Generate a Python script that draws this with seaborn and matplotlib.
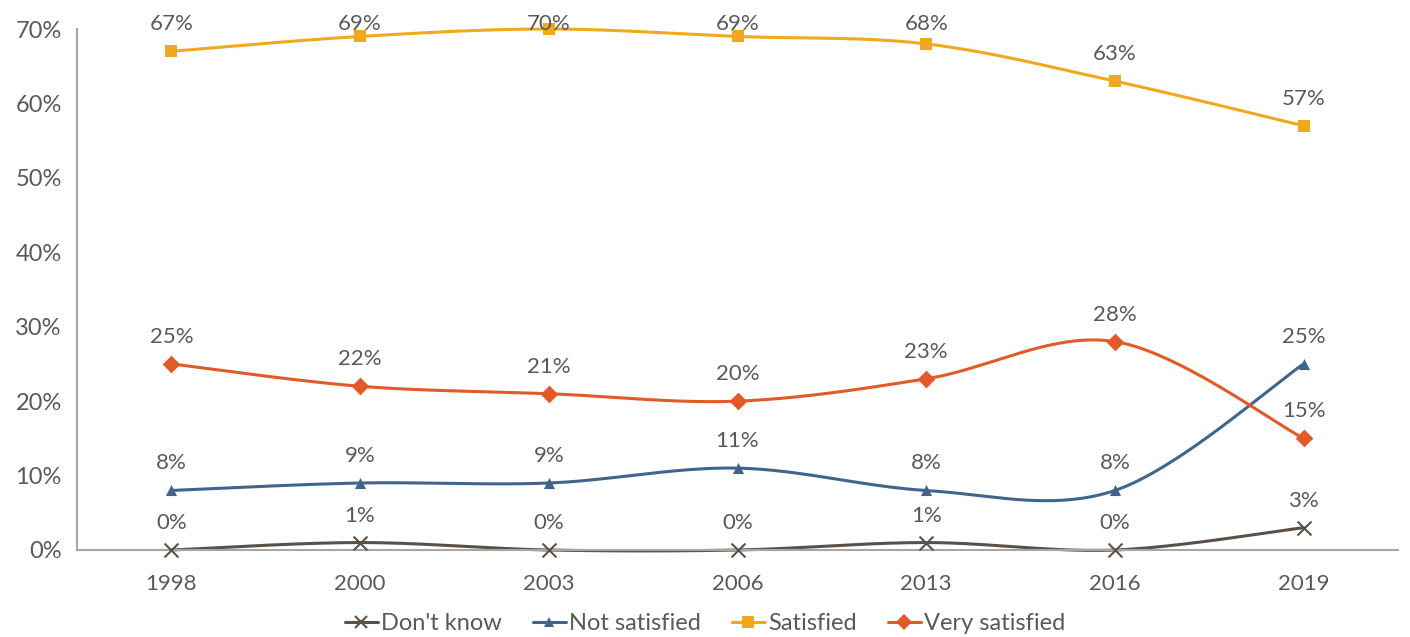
import numpy as np
import pandas as pd
import matplotlib
matplotlib.use("Agg")
import matplotlib.pyplot as plt
from matplotlib.lines import Line2D
import seaborn as sns

years = ["1998", "2000", "2003", "2006", "2013", "2016", "2019"]
dont_know = [0, 1, 0, 0, 1, 0, 3]
not_satisfied = [8, 9, 9, 11, 8, 8, 25]
satisfied = [67, 69, 70, 69, 68, 63, 57]
very_satisfied = [25, 22, 21, 20, 23, 28, 15]

series_names = ["Don't know", "Not satisfied", "Satisfied", "Very satisfied"]
series_vals = [dont_know, not_satisfied, satisfied, very_satisfied]
colors = ["#5b5047", "#41658a", "#f2a81d", "#e15a27"]
markers = ["x", "^", "s", "D"]
msizes = [10, 8, 9, 9]

sns.set_theme(style="white")
plt.rcParams['font.family'] = ['Lato', 'DejaVu Sans']
text_color = "#595959"
axis_color = "#a6a6a6"

W, H = 1410, 637
fig = plt.figure(figsize=(W/100, H/100), dpi=100)
ax = fig.add_axes([77/W, 1-550/H, (1398-77)/W, (550-29)/H])


def smooth(xs, ys, n=40):
    xs = np.asarray(xs, float); ys = np.asarray(ys, float)
    px, py = [], []
    m = len(xs)
    for i in range(m - 1):
        x0, y0 = (xs[i-1], ys[i-1]) if i > 0 else (xs[i], ys[i])
        x1, y1 = xs[i], ys[i]
        x2, y2 = xs[i+1], ys[i+1]
        x3, y3 = (xs[i+2], ys[i+2]) if i + 2 < m else (xs[i+1], ys[i+1])
        c1x, c1y = x1 + (x2 - x0) / 6, y1 + (y2 - y0) / 6
        c2x, c2y = x2 - (x3 - x1) / 6, y2 - (y3 - y1) / 6
        t = np.linspace(0, 1, n, endpoint=(i == m - 2))
        bx = (1-t)**3*x1 + 3*(1-t)**2*t*c1x + 3*(1-t)*t**2*c2x + t**3*x2
        by = (1-t)**3*y1 + 3*(1-t)**2*t*c1y + 3*(1-t)*t**2*c2y + t**3*y2
        px.extend(bx); py.extend(by)
    return np.array(px), np.array(py)


xidx = np.arange(len(years))
rows = []
for name, vals in zip(series_names, series_vals):
    sx, sy = smooth(xidx, vals)
    for a, b in zip(sx, sy):
        rows.append({"x": a, "y": b, "series": name})
curve_df = pd.DataFrame(rows)
point_df = pd.DataFrame([{"x": i, "y": v, "series": name}
                         for name, vals in zip(series_names, series_vals)
                         for i, v in enumerate(vals)])

sns.lineplot(data=curve_df, x="x", y="y", hue="series", hue_order=series_names,
             palette=colors, linewidth=2.2, sort=False, estimator=None,
             legend=False, ax=ax)
for line in ax.lines:
    line.set_clip_on(False)

ax.set_xlim(-0.5, len(years) - 0.5)
ax.set_ylim(0, 70)

label_off_px = 27
label_max_top = H - 24  # label centre may not go above 24 px from the top

for name, c, mk, ms in zip(series_names, colors, markers, msizes):
    sub = point_df[point_df.series == name]
    sns.scatterplot(data=sub, x="x", y="y", color=c, marker=mk,
                    s=ms**2, linewidth=1.5 if mk == "x" else 0,
                    edgecolor=c, legend=False, ax=ax, zorder=5)
    for i, v in zip(sub.x, sub.y):
        px, py = ax.transData.transform((i, v))
        ly = min(py + label_off_px, label_max_top)
        ax.annotate(f"{v:.0f}%", (i, v), xytext=(px, ly), textcoords="figure pixels",
                    ha="center", va="center", fontsize=16, color=text_color, zorder=6)
for coll in ax.collections:
    coll.set_clip_on(False)

ax.set_yticks(np.arange(0, 71, 10))
ax.set_yticklabels([f"{v}%" for v in range(0, 71, 10)], fontsize=17, color=text_color)
ax.set_xticks(np.arange(-0.5, len(years), 1.0))
ax.set_xticklabels([""] * (len(years) + 1))
ax.set_xticks(xidx, minor=True)
ax.set_xticklabels(years, minor=True, fontsize=16, color=text_color)
ax.tick_params(axis="x", which="major", direction="out", length=7, color=axis_color, width=1.2)
ax.tick_params(axis="x", which="minor", length=0, pad=17)
ax.tick_params(axis="y", direction="out", length=7, color=axis_color, width=1.2, pad=4)
ax.set_xlabel(""); ax.set_ylabel("")
for s in ["top", "right"]:
    ax.spines[s].set_visible(False)
for s in ["left", "bottom"]:
    ax.spines[s].set_color(axis_color)
    ax.spines[s].set_linewidth(1.5)

handles = [Line2D([0], [0], color=c, marker=mk, markersize=ms * 0.9, lw=2.2,
                  markeredgewidth=1.5 if mk == "x" else 0, markeredgecolor=c)
           for c, mk, ms in zip(colors, markers, msizes)]
fig.legend(handles, series_names, loc="center", bbox_to_anchor=(0.5, 1 - 624/H),
           ncol=4, frameon=False, fontsize=17, labelcolor=text_color,
           handlelength=1.4, handletextpad=0.15, columnspacing=1.3)

fig.savefig("out.png", dpi=100)
